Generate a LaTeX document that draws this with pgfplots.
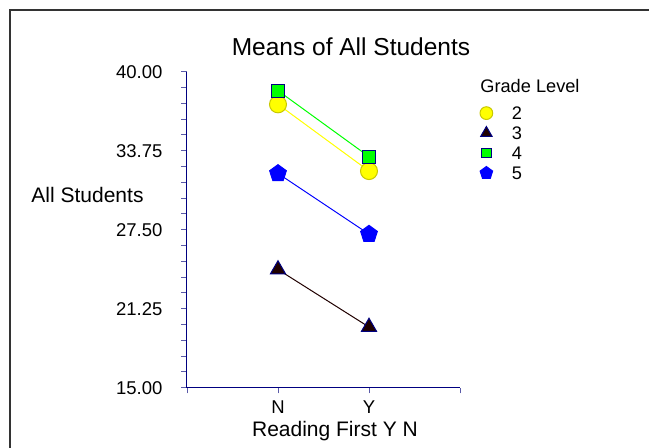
\documentclass[border=0pt]{standalone}
\usepackage{fontspec}
\setmainfont{Liberation Sans}
\usepackage{pgfplots}
\pgfplotsset{compat=1.18}
\definecolor{axisnavy}{HTML}{000080}
\definecolor{ticknavy}{HTML}{5A5AA8}
\definecolor{ptyellow}{HTML}{FFFF00}
\definecolor{edgeyellow}{HTML}{C8C800}
\definecolor{ptgreen}{HTML}{00FF00}
\definecolor{ptblack}{HTML}{200000}
\definecolor{ptblue}{HTML}{0000FF}

\begin{document}
\begin{tikzpicture}
    \path[use as bounding box] (0,0) rectangle (324.5pt,223.5pt);
    % outer frame
    \draw[line width=1pt, black!80] (5pt,-1pt) -- (5pt,218.75pt) -- (326pt,218.75pt);

    \begin{axis}[
        at={(93.5pt,29.65pt)},
        anchor=south west,
        scale only axis,
        width=136.5pt,
        height=158pt,
        xmin=0, xmax=3,
        ymin=15, ymax=40,
        xtick={0,1,2,3},
        xticklabels={,N,Y,},
        ytick={15,21.25,27.5,33.75,40},
        minor y tick num=4,
        axis lines=left,
        axis line style={-, draw=axisnavy, line width=0.5pt},
        tick style={draw=ticknavy, line width=0.45pt},
        tick align=outside,
        major tick length=2.8pt,
        minor tick length=2.8pt,
        yticklabel style={/pgf/number format/.cd, fixed, fixed zerofill, precision=2, /tikz/.cd, font=\fontsize{9.25}{10}\selectfont, xshift=-6pt},
        xticklabel style={font=\fontsize{9.25}{10}\selectfont},
        /pgf/number format/assume math mode=true,
        clip=false,
        legend style={draw=none, fill=none, at={(1.0659,0.9019)}, anchor=north west,
            inner sep=0pt, row sep=0pt, column sep=8.8pt,
            font=\fontsize{9.1}{10}\selectfont,
            nodes={inner sep=0pt, text height=8pt, text depth=2pt}},
        legend cell align=left,
        legend image code/.code={
            \path[draw=none, fill=none] (-4pt,-1pt) rectangle (4pt,1pt);
            \path[#1, draw=none, every mark/.append style={scale=0.75}] plot[only marks] coordinates {(0pt,0pt)};
        },
    ]
        \addplot[color=ptyellow, line width=0.5pt, mark=*, mark size=4.25pt,
            mark options={fill=ptyellow, draw=edgeyellow}]
            coordinates {(1,37.42) (2,32.14)};
        \addlegendentry{2}
        \addplot[color=ptblack, line width=0.5pt, mark=triangle*, mark size=4.4pt,
            mark options={fill=ptblack, draw=axisnavy}]
            coordinates {(1,24.35) (2,19.80)};
        \addlegendentry{3}
        \addplot[color=ptgreen, line width=0.5pt, mark=square*, mark size=3.2pt,
            mark options={fill=ptgreen, draw=axisnavy}]
            coordinates {(1,38.50) (2,33.28)};
        \addlegendentry{4}
        \addplot[color=ptblue, line width=0.5pt, mark=pentagon*, mark size=4.4pt,
            mark options={fill=ptblue, draw=ptblue}]
            coordinates {(1,31.95) (2,27.15)};
        \addlegendentry{5}
    \end{axis}

    % title and labels
    \node[font=\fontsize{12.25}{14}\selectfont] at (175.5pt,200pt) {Means of All Students};
    \node[font=\fontsize{10.5}{12}\selectfont] at (43.75pt,126pt) {All Students};
    \node[font=\fontsize{10.5}{12}\selectfont] at (167.5pt,8.15pt) {Reading First Y N};
    \node[font=\fontsize{9.1}{10}\selectfont, anchor=west, inner sep=0pt] at (240pt,180.5pt) {Grade Level};
\end{tikzpicture}
\end{document}
